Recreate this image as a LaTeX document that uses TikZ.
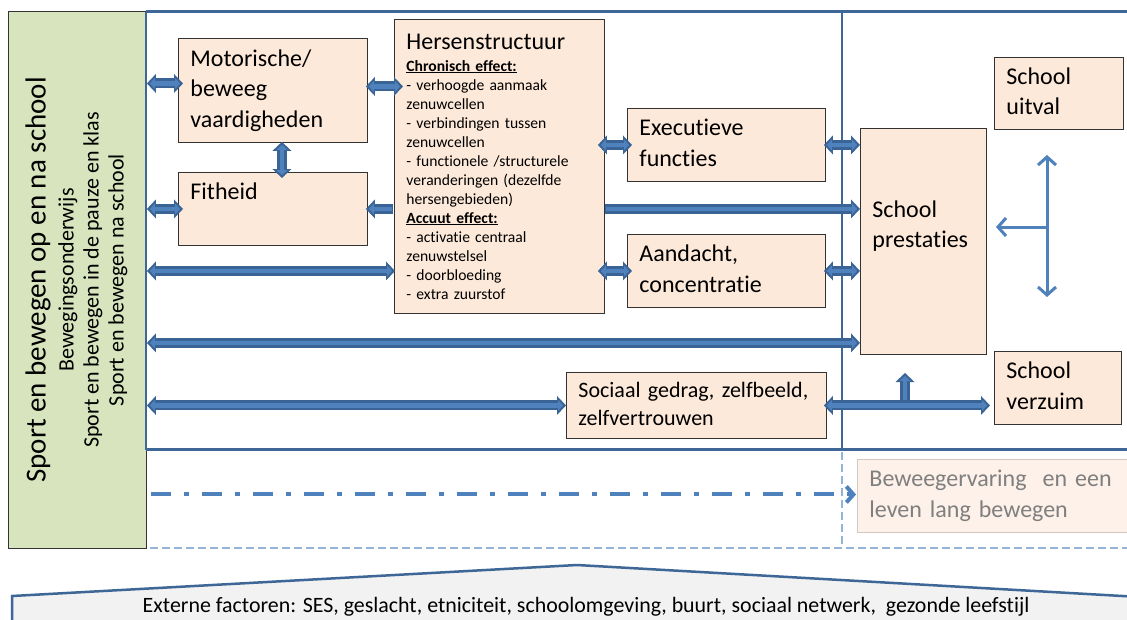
\documentclass[tikz,border=0pt]{standalone}
\usepackage{fontspec}
\setmainfont[Ligatures=NoCommon]{Carlito}
\usetikzlibrary{arrows.meta,calc}
\definecolor{frameblue}{HTML}{3E6697}
\definecolor{arrdark}{HTML}{3B6496}
\definecolor{arrfill}{HTML}{4F81BD}
\definecolor{boxfill}{HTML}{FDE9D9}
\definecolor{greenfill}{HTML}{D7E4BD}
\definecolor{lightblue}{HTML}{95B3D7}
\definecolor{palebox}{HTML}{FDF1E9}
\definecolor{greyborder}{HTML}{CFC8C3}
\definecolor{greytext}{HTML}{7F7F7F}
\definecolor{roofgrey}{HTML}{F2F2F2}
\definecolor{boxline}{HTML}{333333}
\begin{document}
\begin{tikzpicture}[x=1pt,y=-1pt,
  box/.style={draw=boxline, line width=0.9pt, fill=boxfill, inner xsep=12pt, inner ysep=0pt,
    align=left, anchor=north west, font=\fontsize{24}{30.5}\selectfont},
  sbox/.style={box, execute at begin node=\strut, execute at end node=\strut},
  otip/.tip={Triangle[length=9pt,width=19pt,line width=0pt]},
  itip/.tip={Triangle[length=5pt,width=11pt,line width=0pt]},
  bb/.style={draw=arrdark, line width=10pt, otip-otip,
    postaction={draw=arrfill, line width=4.5pt, itip-itip, shorten <=3pt, shorten >=3pt}},
  be/.style={draw=arrdark, line width=10pt, -otip,
    postaction={draw=arrfill, line width=4.5pt, -itip, shorten <=1pt, shorten >=3pt}},
  thinarr/.style={draw=arrfill, line width=3pt},
  vtext/.style={rotate=90, inner sep=0pt}
]
\useasboundingbox[fill=white] (0,0) rectangle (1127,619);
\clip (0,0) rectangle (1127,619);

% left green box
\node[draw=boxline, line width=0.9pt, fill=greenfill, minimum width=138pt, minimum height=537pt,
  anchor=north west, inner sep=0pt] (green) at (8,11) {};
\node[vtext, font=\fontsize{29}{34}\selectfont] (gt0) at (38,280) {Sport en bewegen op en na school};
\node[vtext, font=\fontsize{22}{26}\selectfont] (gt1) at (68,280) {Bewegingsonderwijs};
\node[vtext, font=\fontsize{22}{26}\selectfont] (gt2) at (93,280) {Sport en bewegen in de pauze en klas};
\node[vtext, font=\fontsize{22}{26}\selectfont] (gt3) at (118,280) {Sport en bewegen na school};

% frame
\draw[frameblue, line width=2.5pt] (146,11.5) -- (1135,11.5);
\draw[frameblue, line width=2.5pt] (146,449.5) -- (1135,449.5);
\draw[frameblue, line width=2.5pt] (146,11.5) -- (146,449.5);
\draw[frameblue, line width=2.5pt] (842,11.5) -- (842,449.5);
\draw[lightblue, line width=2.5pt, dash pattern=on 8pt off 4pt] (150,548) -- (1135,548);
\draw[lightblue, line width=2.5pt, dash pattern=on 8pt off 4pt] (842,452) -- (842,548);

% boxes
\node[sbox, minimum width=189pt, minimum height=104pt, text width=165pt] (mot) at (178,38) {Motorische/\\beweeg\\vaardigheden};
\node[sbox, minimum width=189pt, minimum height=73pt, text width=165pt] (fit) at (178,172) {Fitheid\\};
\node[box, minimum width=210pt, minimum height=294pt, text width=186pt,
  font=\fontsize{15.6}{19}\selectfont] (her) at (394,19)
  {{\fontsize{24}{19}\selectfont Hersenstructuur}\\[3pt]
   \textbf{\underline{Chronisch effect:}}\\
   - verhoogde aanmaak\\
   zenuwcellen\\
   - verbindingen tussen\\
   zenuwcellen\\
   - functionele /structurele\\
   veranderingen (dezelfde\\
   hersengebieden)\\
   \textbf{\underline{Accuut effect:}}\\
   - activatie centraal\\
   zenuwstelsel\\
   - doorbloeding\\
   - extra zuurstof};
\node[sbox, minimum width=198pt, minimum height=73pt, text width=174pt] (exe) at (627,108) {Executieve\\functies};
\node[sbox, minimum width=198pt, minimum height=73pt, text width=174pt] (aan) at (627,234) {Aandacht,\\concentratie};
\node[sbox, minimum width=126pt, minimum height=226pt, text width=102pt] (pre) at (860,128) {School\\prestaties\\};
\node[sbox, minimum width=129pt, minimum height=72pt, text width=105pt] (uit) at (994,57) {School\\uitval};
\node[sbox, minimum width=127pt, minimum height=73pt, text width=103pt] (ver) at (994,351) {School\\verzuim};
\node[sbox, minimum width=260pt, minimum height=66pt, text width=236pt,
  font=\fontsize{22}{28}\selectfont] (soc) at (566,372) {Sociaal gedrag, zelfbeeld,\\zelfvertrouwen};
\node[sbox, draw=greyborder, fill=palebox, text=greytext, minimum width=280pt, minimum height=73pt,
  text width=256pt] (bew) at (857,459) {Beweegervaring~ en een\\leven lang bewegen};

% block arrows
\draw[bb] ($(green.east|-mot.west)+(0,-7)$) -- ($(mot.west)+(5,-7)$);
\draw[bb] (green.east|-fit.west) -- ($(fit.west)+(5,0)$);
\draw[bb] ($(mot.south)+(9,-1)$) -- ($(fit.north)+(9,6)$);
\draw[bb] ($(mot.east)+(-2,-4)$) -- ($(her.west|-mot.east)+(9,-4)$);
\draw[be] ($(her.west|-fit.east)+(-1,0)$) -- ($(fit.east)+(-2,0)$);
\draw[bb] (green.east|-aan.west) -- ($(her.west|-aan.west)+(1,0)$);
\draw[bb] ($(her.east|-exe.west)+(-7,0)$) -- ($(exe.west)+(5,0)$);
\draw[bb] ($(her.east|-aan.west)+(-7,0)$) -- ($(aan.west)+(5,0)$);
\draw[bb] ($(exe.east)+(-2,0)$) -- (pre.west|-exe.east);
\draw[bb] ($(aan.east)+(-2,0)$) -- (pre.west|-aan.east);
\draw[be] (her.east|-fit.east) -- (pre.west|-fit.east);
\draw[bb] ($(green.east|-pre.south)+(0,-12)$) -- ($(pre.south west)+(0,-12)$);
\draw[bb] (green.east|-soc.west) -- (soc.west);
\coordinate (upjoin) at (905,405);
\coordinate (uptip) at (905,373);
\draw[be] (upjoin) -- (uptip);
\draw[bb] ($(soc.east)+(-3,0)$) -- ($(ver.west|-soc.east)+(-4,0)$);

% thin arrows right
\coordinate (vtop) at (1047,155);
\coordinate (vbot) at (1047,297);
\coordinate (vmid) at (1047,227);
\coordinate (hleft) at (996,227);
\draw[thinarr, {Straight Barb[length=8pt,width=18pt]}-{Straight Barb[length=8pt,width=18pt]}] (vtop) -- (vbot);
\draw[thinarr, -{Straight Barb[length=8pt,width=18pt]}] (vmid) -- (hleft);

% dash-dot arrow
\draw[draw=arrfill, line width=4pt, dash pattern=on 20pt off 13pt on 5pt off 13pt,
  -{Straight Barb[length=7pt,width=16pt]}] ($(green.east|-bew.west)+(4,-1.5)$) -- ($(bew.west)+(-1,-1.5)$);

% roof
\draw[frameblue, line width=2.5pt, fill=roofgrey] (12,640) -- (12,596) -- (577,565) -- (1140,597) -- (1140,640);
\node[font=\fontsize{21.9}{25}\selectfont, inner sep=0pt] (ext) at (586,607)
  {Externe factoren: SES, geslacht, etniciteit, schoolomgeving, buurt, sociaal netwerk, \ gezonde leefstijl};
\end{tikzpicture}
\end{document}
